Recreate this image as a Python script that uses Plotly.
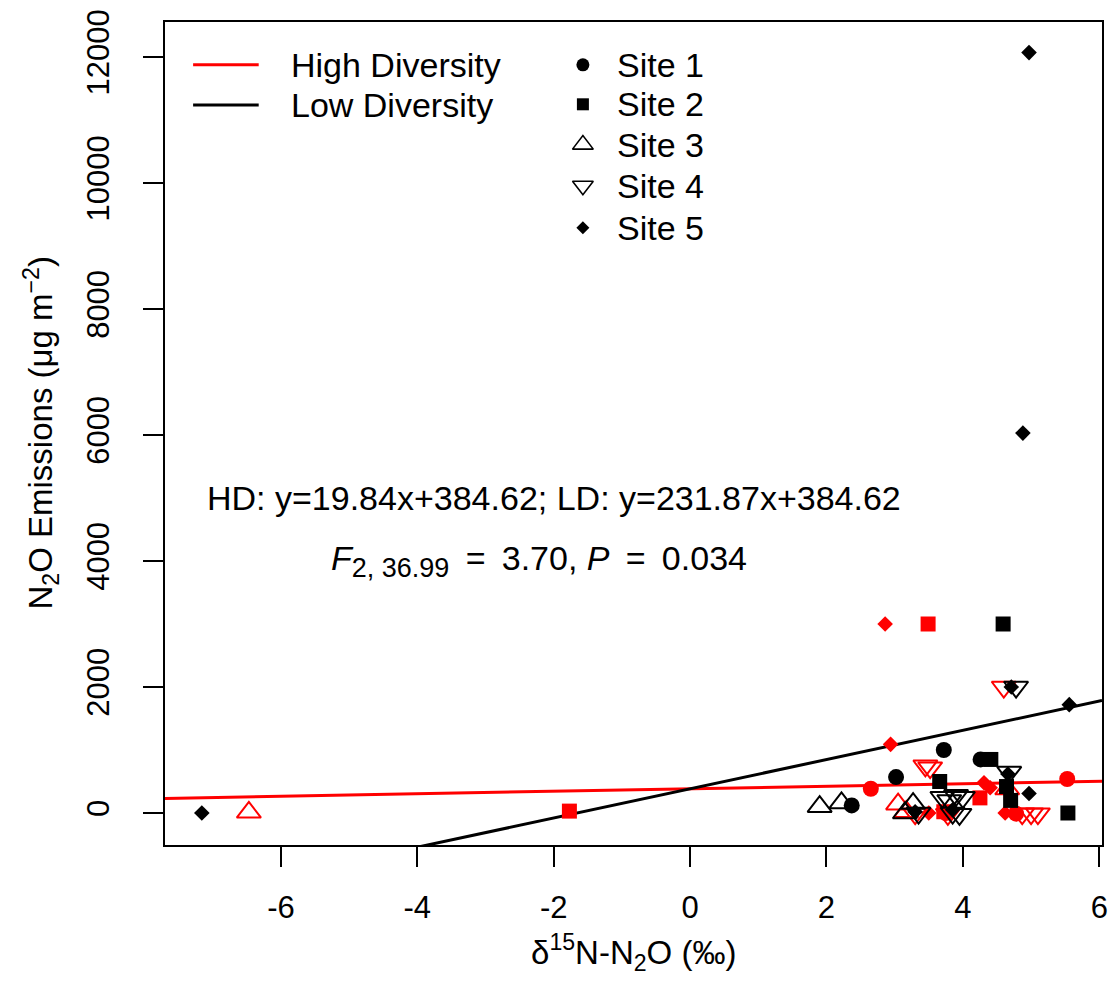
import plotly.graph_objects as go

# ---- axis limits and ticks ----
X_RANGE = [-7.70, 6.04]
Y_RANGE = [-508, 12556]
X_TICKS = [-6, -4, -2, 0, 2, 4, 6]
X_TICK_LABELS = ["-6", "-4", "-2", "0", "2", "4", "6"]
Y_TICKS = [0, 2000, 4000, 6000, 8000, 10000, 12000]
Y_TICK_LABELS = ["0", "2000", "4000", "6000", "8000", "10000", "12000"]

# ---- fitted lines (slope, intercept) ----
HD_SLOPE, HD_INTERCEPT = 19.84, 384.62
LD_SLOPE, LD_INTERCEPT = 231.87, 384.62

# ---- High Diversity plots (red) ----
hd_s1_x = [2.65, 5.53, 4.78, 3.75]
hd_s1_y = [385, 540, -10, 0]
hd_s2_x = [3.49, -1.77, 4.25, 3.72]
hd_s2_y = [3000, 30, 240, 20]
hd_s3_x = [-6.47, 3.05, 3.17, 4.65]
hd_s3_y = [10, 140, 20, 380]
hd_s4_x = [4.60, 3.45, 3.52, 3.30, 3.78, 4.87, 5.00, 5.10]
hd_s4_y = [2000, 750, 720, -10, -20, -10, -10, -10]
hd_s5_x = [2.86, 2.94, 4.31, 3.50, 3.75, 4.62, 4.40]
hd_s5_y = [3000, 1090, 480, 0, 0, 0, 400]

# ---- Low Diversity plots (black) ----
ld_s1_x = [3.72, 4.26, 3.02, 2.37]
ld_s1_y = [1000, 850, 570, 120]
ld_s2_x = [4.59, 4.41, 3.66, 4.70, 4.64, 5.54]
ld_s2_y = [3000, 850, 500, 200, 420, 0]
ld_s3_x = [1.90, 2.22, 3.27, 3.15]
ld_s3_y = [100, 160, 150, 0]
ld_s4_x = [4.78, 4.68, 3.70, 3.80, 3.90, 4.00, 3.35, 3.85, 3.95]
ld_s4_y = [2000, 650, 250, 200, 280, 250, 0, 0, -20]
ld_s5_x = [-7.16, 4.97, 4.88, 4.71, 5.56, 4.97, 4.66, 3.85, 3.30]
ld_s5_y = [0, 12070, 6030, 2000, 1720, 310, 620, 50, 20]

SITES = ["Site 1", "Site 2", "Site 3", "Site 4", "Site 5"]
GROUPS = ["High Diversity", "Low Diversity"]

RED = "#ff0000"
BLACK = "#000000"
FONT = "Liberation Sans, Arial, Helvetica, sans-serif"
EQ = " &#8201;=&#8201; "

# symbol, size and outline width per site
site_style = {
    "Site 1": ("circle", 16, 0),
    "Site 2": ("square", 15, 0),
    "Site 3": ("triangle-up-open", 21, 2),
    "Site 4": ("triangle-down-open", 21, 2),
    "Site 5": ("diamond", 12, 0),
}

fig = go.Figure()

# regression lines across the full x extent (abline style)
for slope, intercept, color in [(HD_SLOPE, HD_INTERCEPT, RED), (LD_SLOPE, LD_INTERCEPT, BLACK)]:
    xs = list(X_RANGE)
    ys = [slope * v + intercept for v in xs]
    fig.add_trace(go.Scatter(x=xs, y=ys, mode="lines",
                             line=dict(color=color, width=3),
                             showlegend=False, hoverinfo="skip"))

series = [
    (hd_s1_x, hd_s1_y, "Site 1", RED), (hd_s2_x, hd_s2_y, "Site 2", RED),
    (hd_s3_x, hd_s3_y, "Site 3", RED), (hd_s4_x, hd_s4_y, "Site 4", RED),
    (hd_s5_x, hd_s5_y, "Site 5", RED),
    (ld_s1_x, ld_s1_y, "Site 1", BLACK), (ld_s2_x, ld_s2_y, "Site 2", BLACK),
    (ld_s3_x, ld_s3_y, "Site 3", BLACK), (ld_s4_x, ld_s4_y, "Site 4", BLACK),
    (ld_s5_x, ld_s5_y, "Site 5", BLACK),
]
for xs, ys, site, color in series:
    sym, size, lw = site_style[site]
    fig.add_trace(go.Scatter(
        x=xs, y=ys, mode="markers", showlegend=False,
        marker=dict(symbol=sym, size=size, color=color,
                    line=dict(color=color, width=lw)),
    ))

# ---- legend drawn on an overlay axis spanning the plot area (0..1) ----
LEG_LINE_X = [0.030, 0.100]
LEG_LINE_Y = [0.948, 0.899]
for yy, color in zip(LEG_LINE_Y, [RED, BLACK]):
    fig.add_trace(go.Scatter(x=LEG_LINE_X, y=[yy, yy], mode="lines",
                             line=dict(color=color, width=3),
                             xaxis="x2", yaxis="y2", showlegend=False, hoverinfo="skip"))
LEG_SITE_X = 0.446
LEG_SITE_Y = [0.948, 0.900, 0.851, 0.801, 0.750]
leg_style = {
    "Site 1": ("circle", 13, 0),
    "Site 2": ("square", 12, 0),
    "Site 3": ("triangle-up-open", 18, 1.6),
    "Site 4": ("triangle-down-open", 18, 1.6),
    "Site 5": ("diamond", 10, 0),
}
for site, yy in zip(SITES, LEG_SITE_Y):
    sym, size, lw = leg_style[site]
    fig.add_trace(go.Scatter(x=[LEG_SITE_X], y=[yy], mode="markers",
                             marker=dict(symbol=sym, size=size, color=BLACK,
                                         line=dict(color=BLACK, width=lw)),
                             xaxis="x2", yaxis="y2", showlegend=False, hoverinfo="skip"))

annotations = []
for label, yy in zip(GROUPS, LEG_LINE_Y):
    annotations.append(dict(x=0.132, y=yy, xref="paper", yref="paper", text=label,
                            showarrow=False, xanchor="left", yanchor="middle",
                            font=dict(family=FONT, size=34, color=BLACK)))
for label, yy in zip(SITES, LEG_SITE_Y):
    annotations.append(dict(x=0.480, y=yy, xref="paper", yref="paper", text=label,
                            showarrow=False, xanchor="left", yanchor="middle",
                            font=dict(family=FONT, size=34, color=BLACK)))

# model statistics
annotations.append(dict(x=-2, y=5000, xref="x", yref="y",
                        text="HD: y=19.84x+384.62; LD: y=231.87x+384.62",
                        showarrow=False, xanchor="center", yanchor="middle",
                        font=dict(family=FONT, size=34, color=BLACK)))
annotations.append(dict(x=-2.22, y=4000, xref="x", yref="y",
                        text=("<i>F</i><sub><span style='font-size:27px'>2, 36.99</span></sub>"
                              + EQ + "3.70, <i>P</i>" + EQ + "0.034"),
                        showarrow=False, xanchor="center", yanchor="middle",
                        font=dict(family=FONT, size=34, color=BLACK)))

# axis titles
annotations.append(dict(x=0.5, y=0, xref="paper", yref="paper", yshift=-107,
                        text="δ<sup>15</sup>N-N<sub>2</sub>O (‰)",
                        showarrow=False, xanchor="center", yanchor="middle",
                        font=dict(family=FONT, size=33, color=BLACK)))
annotations.append(dict(x=0, y=0.5, xref="paper", yref="paper", xshift=-124,
                        text="N<sub>2</sub>O Emissions (μg m<sup>−2</sup>)", textangle=-90,
                        showarrow=False, xanchor="center", yanchor="middle",
                        font=dict(family=FONT, size=33, color=BLACK)))

axis_common = dict(
    showgrid=False, zeroline=False, showline=True, linecolor=BLACK, linewidth=2,
    mirror=True, ticks="outside", ticklen=20, tickwidth=2, tickcolor=BLACK,
    tickfont=dict(family=FONT, size=31, color=BLACK),
)

fig.update_layout(
    width=1116, height=981,
    margin=dict(l=165, r=8, t=22, b=136),
    paper_bgcolor="white", plot_bgcolor="white",
    xaxis=dict(range=X_RANGE, tickvals=X_TICKS, ticktext=X_TICK_LABELS,
               ticklabelstandoff=14, **axis_common),
    yaxis=dict(range=Y_RANGE, tickvals=Y_TICKS, ticktext=Y_TICK_LABELS,
               tickangle=-90, ticklabelstandoff=22, **axis_common),
    xaxis2=dict(overlaying="x", range=[0, 1], visible=False),
    yaxis2=dict(overlaying="y", range=[0, 1], visible=False),
    annotations=annotations,
    showlegend=False,
)

fig.write_html("out.html")
